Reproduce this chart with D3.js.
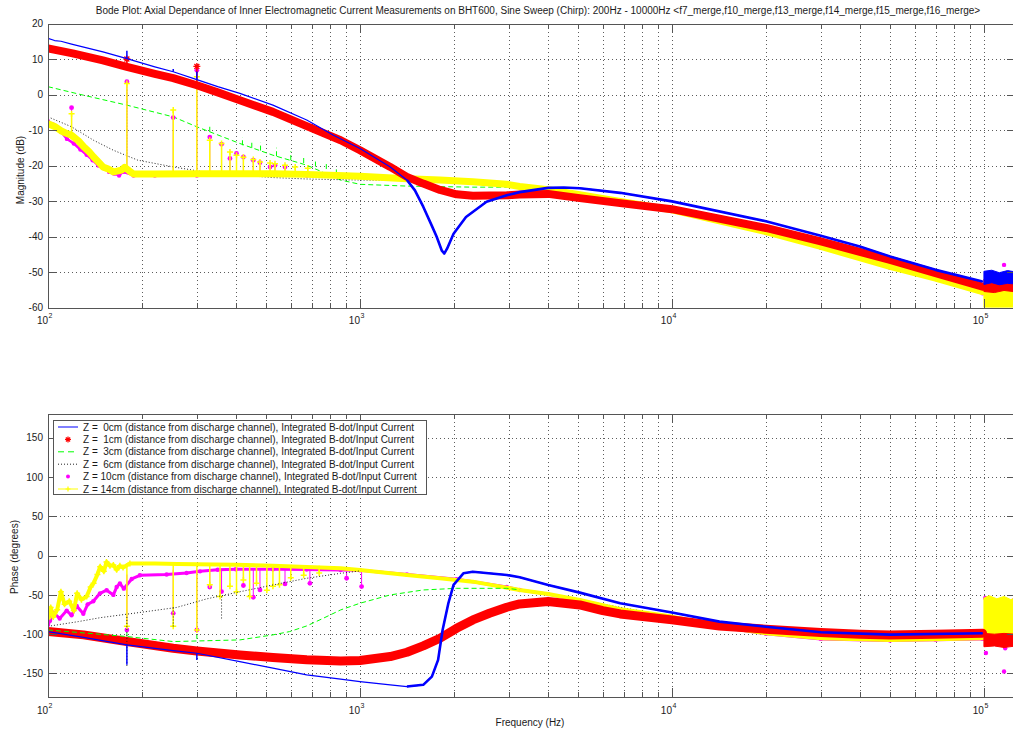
<!DOCTYPE html>
<html><head><meta charset="utf-8">
<script src="https://cdn.jsdelivr.net/npm/d3@7"></script>
<style>
body{margin:0;background:#fff;}
svg text{font-family:Arial,"Liberation Sans",Helvetica,sans-serif;fill:#1a1a1a;}
</style></head><body>
<svg id="c" width="1013" height="732"></svg>
<script>
// ---------------- DATA ----------------
const TITLE = "Bode Plot: Axial Dependance of Inner Electromagnetic Current Measurements on BHT600, Sine Sweep (Chirp): 200Hz - 10000Hz <f7_merge,f10_merge,f13_merge,f14_merge,f15_merge,f16_merge>";
const X_LABEL = "Frequency (Hz)";
const MAG_LABEL = "Magnitude (dB)";
const PHASE_LABEL = "Phase (degrees)";
const FREQ_MAJOR = [100, 1000, 10000, 100000];
const FREQ_EXP = ["2", "3", "4", "5"];
const MAG_TICKS = [-60, -50, -40, -30, -20, -10, 0, 10, 20];
const PHASE_TICKS = [-150, -100, -50, 0, 50, 100, 150];
const LEGEND = [
  "Z =  0cm (distance from discharge channel), Integrated B-dot/Input Current",
  "Z =  1cm (distance from discharge channel), Integrated B-dot/Input Current",
  "Z =  3cm (distance from discharge channel), Integrated B-dot/Input Current",
  "Z =  6cm (distance from discharge channel), Integrated B-dot/Input Current",
  "Z = 10cm (distance from discharge channel), Integrated B-dot/Input Current",
  "Z = 14cm (distance from discharge channel), Integrated B-dot/Input Current"
];

// Magnitude (dB): [freq, value]
const magZ0 = [[100,15.8],[105,15.2],[110,15.0],[119,14.2],[150,12.0],[179,10.1],[220,7.8],[252,6.4],[300,4.2],[350,2.2],[412,0.3],[526,-3.0],[675,-7.2],[822,-11.5],[1000,-15.2],[1250,-20.4],[1414,-24.1],[1500,-27.0],[1595,-31.6],[1700,-37.0],[1760,-40.0],[1830,-44.0],[1862,-44.8],[1900,-43.5],[1995,-39.2],[2187,-34.5],[2545,-30.2],[2955,-28.4],[3250,-27.5],[4010,-26.3],[4500,-26.2],[5065,-26.4],[6825,-27.7],[10000,-30.1],[20000,-35.7],[30000,-39.8],[40000,-42.8],[50000,-45.6],[70000,-49.4],[99000,-52.7]];
const magZ1 = [[100,13.0],[120,11.6],[150,9.6],[179,7.8],[220,5.8],[252,4.6],[300,2.6],[350,0.6],[412,-1.6],[526,-4.9],[675,-8.9],[867,-12.9],[1000,-15.7],[1250,-20.4],[1414,-23.2],[1595,-25.1],[1805,-26.9],[2040,-28.1],[2300,-28.5],[2955,-28.4],[3250,-28.2],[4010,-28.0],[5065,-29.2],[6825,-30.6],[10000,-32.3],[20000,-37.6],[30000,-41.4],[50000,-46.6],[70000,-50.3],[99000,-54.1]];
const magZ3 = [[100,2.2],[130,-0.2],[179,-3.0],[252,-6.3],[300,-9.1],[412,-13.8],[526,-17.1],[675,-19.9],[867,-24.1],[1000,-25.3],[1414,-25.8],[2300,-26.1],[3000,-26.1],[4000,-26.8],[5065,-28.2],[6825,-30.1],[10000,-32.5],[20000,-38.6],[30000,-42.8],[50000,-48.4],[70000,-51.7],[99000,-55.5]];
const magZ6 = [[100,-6.3],[119,-9.1],[140,-12.9],[162,-15.7],[194,-18.5],[252,-20.4],[316,-21.8],[412,-22.7],[526,-23.4],[675,-23.8],[867,-24.0],[1000,-24.1],[1414,-24.2],[2300,-25.0],[3250,-26.0],[5065,-28.3],[10000,-32.5],[20000,-38.6],[50000,-48.4],[99000,-55.5]];
const magZ10 = [[100,-7.5],[104,-8.5],[110,-10.5],[115,-12.5],[121,-13.8],[127,-15.5],[133,-17.0],[139,-18.5],[145,-20.0],[151,-20.8],[157,-21.8],[163,-22.3],[169,-22.8],[174,-21.8],[188,-22.8],[220,-22.8],[300,-22.8],[400,-22.6],[526,-22.6],[675,-22.8],[1000,-23.2],[1414,-23.8],[2000,-24.5],[2955,-25.5],[4010,-26.9],[5065,-28.4],[6825,-30.3],[10000,-32.8],[20000,-39.0],[30000,-43.2],[50000,-48.8],[70000,-52.0],[99000,-56.0]];
const magZ14 = [[100,-8.2],[105,-9.0],[110,-10.2],[115,-11.0],[119,-11.5],[125,-13.0],[130,-14.7],[135,-16.0],[140,-17.6],[145,-19.0],[150,-20.4],[156,-21.0],[162,-21.8],[168,-21.5],[172,-21.3],[176,-20.5],[182,-21.5],[188,-22.4],[220,-22.4],[300,-22.3],[400,-22.3],[526,-22.3],[675,-22.5],[1000,-23.0],[1414,-23.7],[1805,-24.1],[2300,-24.6],[2955,-25.3],[3250,-25.9],[4010,-26.8],[5065,-28.2],[6825,-30.1],[10000,-32.5],[20000,-38.6],[30000,-42.8],[50000,-48.4],[70000,-51.7],[99000,-55.5]];

// Magnitude spikes: [freq, base, peak]
const magSpkZ0 = [[179,10.1,12.3],[252,6.4,7.2],[300,4.2,6.5]];
const magSpkZ1 = [[179,7.8,10.0],[300,2.6,7.9]];
const magSpkZ3 = [[179,-3.0,-1.0],[330,-10.5,-8.7],[420,-14.3,-12.0],[450,-15.0,-12.8],[480,-15.8,-13.5],[540,-17.4,-15.0],[600,-18.5,-16.0],[660,-19.3,-17.2],[720,-20.3,-18.6],[780,-21.0,-19.4],[840,-22.5,-20.5]];
const magSpkZ6 = [[179,-17.5,2.0]];
const magSpkZ10 = [[119,-11.8,-3.7],[179,-20.5,3.6],[252,-22.5,-6.5],[300,-22.6,6.8],[330,-22.5,-12.0],[360,-22.5,-14.0],[383,-22.5,-18.0],[402,-22.5,-16.6],[423,-22.5,-17.6],[455,-22.5,-18.5],[478,-22.5,-19.2],[515,-22.5,-20.4],[534,-22.5,-19.9],[575,-22.6,-20.4]];
const magSpkZ14 = [[119,-11.5,-5.4],[179,-20.5,3.1],[252,-22.3,-4.4],[300,-22.3,5.0],[330,-22.3,-12.9],[360,-22.3,-13.8],[383,-22.3,-16.2],[402,-22.3,-17.1],[423,-22.3,-17.7],[455,-22.3,-18.3],[478,-22.3,-19.0],[515,-22.3,-19.3],[534,-22.3,-19.5],[575,-22.3,-19.9],[620,-22.3,-20.4],[680,-22.4,-20.8]];

// Magnitude noise above 100 kHz: [freq, low, high]
const magNoiseZ0 = [[100000,-53.5,-49.8],[106000,-53.0,-49.5],[112000,-53.6,-50.2],[119000,-53.2,-49.6],[126700,-53.4,-50.0]];
const magNoiseZ1 = [[100000,-55.5,-52.0],[108000,-55.8,-51.6],[116000,-55.2,-52.2],[126700,-55.6,-51.8]];
const magNoiseZ14 = [[100000,-60,-53.5],[105000,-60,-52.8],[112000,-60,-53.8],[120000,-60,-53.0],[126700,-60,-53.5]];
const magOutZ10 = [[116000,-48.0],[117000,-50.5]];

// Phase (degrees): [freq, value]
const phZ0 = [[100,-96.7],[130,-104],[179,-113.7],[252,-121],[300,-124.3],[412,-134.9],[526,-143.3],[675,-151.8],[867,-157.3],[1000,-160.3],[1250,-164.5],[1414,-166.7],[1595,-164.5],[1700,-154],[1780,-132.7],[1840,-94.6],[1920,-60.6],[1995,-37.3],[2145,-22.5],[2300,-20.4],[2955,-24.6],[3250,-27.6],[4010,-37.3],[5065,-47.1],[6825,-60.6],[10000,-72.5],[14200,-84.0],[20000,-90.5],[30000,-97.5],[50000,-100.6],[99000,-98.8]];
const phZ1 = [[100,-96.7],[130,-100.9],[179,-109.4],[252,-117.9],[300,-121.3],[412,-126.4],[526,-129.8],[675,-132.7],[867,-134.0],[1000,-133.6],[1250,-128.5],[1414,-123.0],[1595,-114.9],[1805,-105.2],[2040,-92.5],[2300,-81.8],[2600,-73.4],[2955,-65.7],[3250,-61.5],[4010,-58.5],[5065,-62.8],[6000,-70.0],[6825,-74.2],[10000,-81.8],[14200,-89.5],[20000,-93.7],[30000,-98.0],[40000,-100.1],[50000,-100.9],[70000,-100.1],[99000,-98.8]];
const phZ3 = [[100,-94.6],[179,-103],[252,-109.4],[412,-107.3],[526,-100.9],[595,-96.7],[675,-89.5],[763,-79.7],[867,-69.1],[1000,-60.6],[1250,-50],[1595,-43.7],[2040,-41.6],[2955,-41.6],[3250,-43.5],[4010,-48.8],[5065,-56.4],[6825,-68.3],[10000,-77.6],[14200,-90.3],[20000,-98.8],[30000,-105.2],[50000,-107.3],[70000,-106.4],[99000,-105.2]];
const phZ6 = [[100,-90],[125,-84],[147,-79],[200,-72],[258,-66],[323,-55],[412,-46],[526,-37.3],[675,-28.8],[867,-22.5],[1000,-19.5],[1414,-24],[2300,-33],[3250,-43.7],[5065,-56.4],[10000,-77.6],[20000,-98.8],[50000,-107.3],[99000,-105.2]];
const phZ10 = [[100,-88],[101.5,-83],[104,-72.6],[109,-80],[114.8,-70],[119,-76],[123.6,-64],[129.8,-74],[134,-62],[139.7,-58],[146.8,-48],[154.2,-44],[162,-50],[166,-40],[170,-35.5],[175,-42],[185.5,-29.7],[197,-25],[240,-24],[278,-22],[307,-20],[350,-18],[400,-17.4],[526,-17.4],[675,-17.6],[867,-18.2],[1000,-18.5],[1414,-24],[2040,-30],[2955,-40],[3250,-43.7],[4010,-49],[5065,-57],[6825,-69],[10000,-78.5],[14200,-91],[20000,-99.5],[30000,-106],[50000,-108],[70000,-107],[99000,-106]];
const phZ14 = [[100,-80],[102,-66],[104,-78],[107,-69],[110,-46],[113,-62],[117,-58],[121,-70],[124,-48],[128,-56],[133,-52],[137,-40],[140,-35],[144,-24],[147,-14],[151,-20],[154,-8],[158,-13],[162,-12],[166,-18],[170,-13],[174,-15],[183,-10],[220,-10],[260,-10.5],[300,-11],[400,-11.5],[526,-13],[675,-14.5],[867,-16.1],[1000,-18.2],[1414,-24.6],[1805,-28.8],[2300,-33.1],[3250,-43.7],[4010,-48.8],[5065,-56.4],[6825,-68.3],[10000,-77.6],[14200,-90.3],[20000,-98.8],[30000,-105.2],[50000,-107.3],[70000,-106.4],[99000,-105.2]];

// Phase spikes: [freq, base, tip]
const phSpkZ0 = [[179,-113.7,-139],[300,-124.3,-133]];
const phSpkZ1 = [];
const phSpkZ3 = [[179,-103,-98],[300,-106,-101]];
const phSpkZ6 = [[179,-78,-141],[252,-66,-92],[360,-52,-82]];
const phSpkZ10 = [[179,-24,-94.6],[252,-18,-73.4],[300,-17.4,-94.6],[330,-17.4,-40],[360,-17.4,-45.8],[423,-17.4,-38],[455,-17.4,-53],[478,-17.4,-43.7],[575,-17.6,-36],[691,-17.8,-35.2],[906,-18.2,-28.8],[1012,-18.5,-39.4]];
const phSpkZ14 = [[179,-10,-90],[252,-10.5,-90],[300,-11,-94.6],[330,-11,-37],[356,-11,-52],[383,-11,-39],[402,-11,-46],[423,-11,-31],[443,-11,-52],[466,-11.5,-35],[503,-11.5,-44],[526,-12,-39],[552,-12,-37],[600,-12,-28],[660,-12.5,-25],[740,-13,-22]];

// Phase noise above 100 kHz: [freq, low, high]
const phNoiseZ1 = [[100000,-116,-99],[108000,-115,-100],[116000,-117,-99],[126700,-115,-100]];
const phNoiseZ14 = [[100000,-108,-54],[104000,-110,-51],[110000,-107,-55],[116000,-111,-52],[122000,-108,-56],[126700,-110,-53]];
const phOutZ10 = [[101000,-54],[101500,-124],[104000,-57],[116000,-147.6],[117000,-118],[125000,-113.6],[124500,-57]];

// ---------------- RENDER ----------------
const FS = 10;
const svg = d3.select("#c");
const X0 = 48, X1 = 1016;
const x = d3.scaleLog().domain([100, 126700]).range([X0, X1]);
const allFreqTicks = x.ticks();

const panels = [
  { y: d3.scaleLinear().domain([-60, 20]).range([307.5, 23.5]), ticks: MAG_TICKS, label: MAG_LABEL, labelX: 23.5, labelY: 170, xlabBase: 323.5,
    series: [
      {data: magZ3, spk: magSpkZ3, color: "#00ff00", w: 1, dash: "5,3"},
      {data: magZ6, spk: magSpkZ6, color: "#222", w: 1, dash: "1,2"},
      {data: magZ10, spk: magSpkZ10, color: "#ff00ff", w: 2.5, dots: true, out: magOutZ10},
      {data: magZ14, spk: magSpkZ14, color: "#ffff00", w: 7, plus: true, noise: magNoiseZ14},
      {data: magZ1, spk: magSpkZ1, color: "#ff0000", w: 8, star: true, noise: magNoiseZ1},
      {data: magZ0, spk: magSpkZ0, color: "#0000ff", w: 1.2, thickFrom: 1400, noise: magNoiseZ0}
    ]},
  { y: d3.scaleLinear().domain([-180, 180]).range([697, 414.3]), ticks: PHASE_TICKS, label: PHASE_LABEL, labelX: 17.5, labelY: 557, xlabBase: 714,
    series: [
      {data: phZ10, spk: phSpkZ10, color: "#ff00ff", w: 3, dots: true, out: phOutZ10},
      {data: phZ14, spk: phSpkZ14, color: "#ffff00", w: 4, plus: true, noise: phNoiseZ14},
      {data: phZ1, spk: phSpkZ1, color: "#ff0000", w: 9, star: true, noise: phNoiseZ1},
      {data: phZ3, spk: phSpkZ3, color: "#00ff00", w: 1, dash: "5,3", until: 3000},
      {data: phZ6, spk: phSpkZ6, color: "#222", w: 1, dash: "1,2", until: 1200},
      {data: phZ0, spk: phSpkZ0, color: "#0000ff", w: 1.2, thickFrom: 1400}
    ]}
];

function plusPath(cx, cy, r) { return `M${cx-r},${cy}H${cx+r}M${cx},${cy-r}V${cy+r}`; }
function starPath(cx, cy, r) { const q = r*0.7; return plusPath(cx, cy, r) + `M${cx-q},${cy-q}L${cx+q},${cy+q}M${cx-q},${cy+q}L${cx+q},${cy-q}`; }

const defs = svg.append("defs");

panels.forEach((p, i) => {
  const y = p.y;
  const top = y.range()[1], bot = y.range()[0];
  const clipId = "clip" + i;
  defs.append("clipPath").attr("id", clipId).append("rect")
    .attr("x", X0).attr("y", top).attr("width", X1 - X0).attr("height", bot - top);

  const grid = svg.append("g").attr("stroke", "#333").attr("stroke-width", 0.8)
    .attr("stroke-dasharray", "1,3").attr("shape-rendering", "crispEdges");
  grid.selectAll(null).data(allFreqTicks.filter(t => t > 100)).join("line")
    .attr("x1", d => Math.round(x(d)) + 0.5).attr("x2", d => Math.round(x(d)) + 0.5)
    .attr("y1", top).attr("y2", bot);
  grid.selectAll(null).data(p.ticks.filter(t => y(t) > top + 1 && y(t) < bot - 1)).join("line")
    .attr("x1", X0).attr("x2", X1)
    .attr("y1", d => Math.round(y(d)) + 0.5).attr("y2", d => Math.round(y(d)) + 0.5);

  const g = svg.append("g").attr("clip-path", `url(#${clipId})`);
  const line = d3.line().x(d => x(d[0])).y(d => y(d[1]));
  const area = d3.area().x(d => x(d[0])).y0(d => y(d[1])).y1(d => y(d[2]));

  p.series.forEach(s => {
    if (s.noise) g.append("path").datum(s.noise).attr("d", area).attr("fill", s.color).attr("stroke", s.color).attr("stroke-width", 1);
    // series hidden beneath others at high frequency in the picture are drawn below them there
    const visible = s.until ? s.data.filter(d => d[0] <= s.until) : s.data;
    const hidden = s.until ? s.data.filter(d => d[0] >= s.until * 0.8) : [];
    if (hidden.length) g.insert("path", ":first-child").datum(hidden).attr("d", line).attr("fill", "none")
      .attr("stroke", s.color).attr("stroke-width", s.w).attr("stroke-dasharray", s.dash || null);
    g.append("path").datum(s.until ? s.data.filter(d => d[0] <= s.until * 1.1) : visible).attr("d", line).attr("fill", "none")
      .attr("stroke", s.color).attr("stroke-width", s.w)
      .attr("stroke-linejoin", "round").attr("stroke-linecap", s.dash ? "butt" : "round")
      .attr("stroke-dasharray", s.dash || null);
    if (s.thickFrom) g.append("path").datum(s.data.filter(d => d[0] >= s.thickFrom)).attr("d", line)
      .attr("fill", "none").attr("stroke", s.color).attr("stroke-width", 2.6).attr("stroke-linejoin", "round");
    g.selectAll(null).data(s.spk).join("line")
      .attr("x1", d => x(d[0])).attr("x2", d => x(d[0]))
      .attr("y1", d => y(d[1])).attr("y2", d => y(d[2]))
      .attr("stroke", s.color).attr("stroke-width", (s.dash || s.dots) ? 1 : 1.5)
      .attr("stroke-dasharray", s.dash || null);
    if (s.dots) {
      g.selectAll(null).data(s.data.concat(s.out || [])).join("circle")
        .attr("cx", d => x(d[0])).attr("cy", d => y(d[1])).attr("r", 2.2).attr("fill", s.color);
      g.selectAll(null).data(s.spk).join("circle")
        .attr("cx", d => x(d[0])).attr("cy", d => y(d[2])).attr("r", 2.4).attr("fill", s.color);
    }
    if (s.plus) {
      g.append("path").attr("d", s.spk.map(d => plusPath(x(d[0]), y(d[2]), 3)).join("") +
          s.data.filter(d => d[0] < 200).map(d => plusPath(x(d[0]), y(d[1]), 3)).join(""))
        .attr("stroke", s.color).attr("stroke-width", 1.5).attr("fill", "none");
    }
    if (s.star) {
      g.append("path").attr("d", s.spk.map(d => starPath(x(d[0]), y(d[2]), 3.5)).join(""))
        .attr("stroke", s.color).attr("stroke-width", 1.3).attr("fill", "none");
    }
  });

  // axis box and ticks
  const ax = svg.append("g").attr("stroke", "#555").attr("stroke-width", 1).attr("shape-rendering", "crispEdges");
  ax.append("rect").attr("x", X0 + 0.5).attr("y", Math.round(top) + 0.5).attr("width", X1 - X0).attr("height", Math.round(bot) - Math.round(top)).attr("fill", "none");
  const tl = d => (FREQ_MAJOR.includes(d) ? 9 : 5);
  ax.selectAll(null).data(allFreqTicks).join("path")
    .attr("d", d => { const xx = Math.round(x(d)) + 0.5; return `M${xx},${Math.round(bot)}v${-tl(d)}M${xx},${Math.round(top)}v${tl(d)}`; });
  ax.selectAll(null).data(p.ticks).join("path")
    .attr("d", d => { const yy = Math.round(y(d)) + 0.5; return `M${X0},${yy}h9M${X1},${yy}h-9`; });

  // tick labels
  svg.append("g").selectAll(null).data(p.ticks).join("text")
    .attr("x", 43).attr("y", d => y(d) + 3.6).attr("text-anchor", "end").attr("font-size", FS).text(d => d);
  const xl = svg.append("g");
  FREQ_MAJOR.forEach((f, k) => {
    xl.append("text").attr("x", x(f)).attr("y", p.xlabBase).attr("text-anchor", "end").attr("font-size", FS).text("10");
    xl.append("text").attr("x", x(f) + 0.5).attr("y", p.xlabBase - 6).attr("font-size", 7).text(FREQ_EXP[k]);
  });
  svg.append("text").attr("transform", `translate(${p.labelX},${p.labelY}) rotate(-90)`)
    .attr("text-anchor", "middle").attr("font-size", FS).text(p.label);
});

svg.append("text").attr("x", 538).attr("y", 14).attr("text-anchor", "middle").attr("font-size", FS).text(TITLE);
svg.append("text").attr("x", 530).attr("y", 726).attr("text-anchor", "middle").attr("font-size", FS).text(X_LABEL);

// legend
const lg = svg.append("g");
lg.append("rect").attr("x", 53.5).attr("y", 420.5).attr("width", 373).attr("height", 74).attr("fill", "#fff").attr("stroke", "#555").attr("shape-rendering", "crispEdges");
const legStyles = [
  {color: "#0000ff", kind: "line"},
  {color: "#ff0000", kind: "star"},
  {color: "#00ff00", kind: "line", dash: "6,4"},
  {color: "#222", kind: "line", dash: "1,2"},
  {color: "#ff00ff", kind: "dot"},
  {color: "#ffff00", kind: "plusline"}
];
LEGEND.forEach((t, k) => {
  const cy = 427 + k * 12.4;
  const st = legStyles[k];
  if (st.kind === "line" || st.kind === "plusline")
    lg.append("line").attr("x1", 58).attr("x2", 78).attr("y1", cy).attr("y2", cy).attr("stroke", st.color).attr("stroke-width", 1).attr("stroke-dasharray", st.dash || null);
  if (st.kind === "plusline")
    lg.append("path").attr("d", plusPath(68, cy, 2.5)).attr("stroke", st.color).attr("stroke-width", 1.2);
  if (st.kind === "star")
    lg.append("path").attr("d", starPath(68, cy, 3)).attr("stroke", st.color).attr("stroke-width", 1.2);
  if (st.kind === "dot")
    lg.append("circle").attr("cx", 68).attr("cy", cy).attr("r", 2).attr("fill", st.color);
  lg.append("text").attr("x", 83).attr("y", cy + 3.6).attr("font-size", FS).style("white-space", "pre").text(t);
});
</script>
</body></html>
